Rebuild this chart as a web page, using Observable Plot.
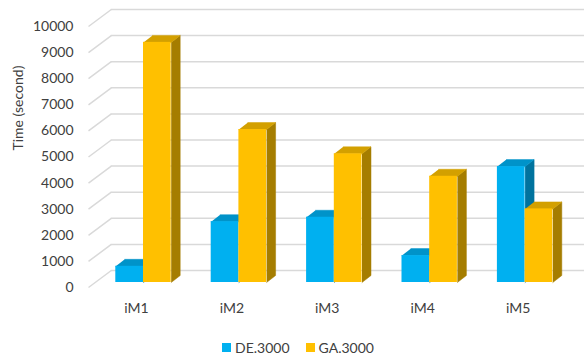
<!DOCTYPE html>
<html>
<head>
<meta charset="utf-8">
<script src="https://cdn.jsdelivr.net/npm/d3@7"></script>
<script src="https://cdn.jsdelivr.net/npm/@observablehq/plot@0.6"></script>
<style>
  html, body { margin: 0; padding: 0; background: #fff; }
  #chart { width: 584px; }
  .legend { height: 22px; line-height: 22px; font: 14px Lato, sans-serif; color: #404040;
    display: flex; justify-content: center; align-items: center; padding-left: 12px; box-sizing: border-box; width: 584px; }
  .legend span.item { display: inline-flex; align-items: center; margin: 0 8px; }
  .legend span.sw { width: 9px; height: 9px; display: inline-block; margin-right: 4px; }
</style>
</head>
<body>
<div id="chart"></div>
<script>
// ---- data ----
const categories = ["iM1", "iM2", "iM3", "iM4", "iM5"];
const seriesNames = ["DE.3000", "GA.3000"];
const deValues = [620, 2330, 2500, 1030, 4440];
const gaValues = [9200, 5860, 4930, 4070, 2820];
const yTicks = [0, 1000, 2000, 3000, 4000, 5000, 6000, 7000, 8000, 9000, 10000];

// ---- styling ----
const frontColors = ["#00B0F0", "#FFC000"];
const topColors = ["#0093C9", "#D3A000"];
const sideColors = ["#00739E", "#A57D00"];

const W = 584, H = 336;
const mL = 95.3, mR = 11.7, mT = 21, mB = 54;
const kx = (W - mL - mR) / 5;          // px per category unit
const ky = (H - mT - mB) / 10000;      // px per value unit
const barW = 27.7 / kx;                // bar width in x units
const ddx = 9 / kx, ddy = 7 / ky;      // bar depth offset in data units

const series = [deValues, gaValues];
const bars = [];
series.forEach((vals, s) => vals.forEach((v, i) => {
  const x1 = s === 0 ? i - barW : i;
  const x2 = s === 0 ? i : i + barW;
  bars.push({i, s, v, x1, x2, key: s + "-" + i});
}));

const topPts = [], sidePts = [];
for (const b of bars) {
  topPts.push(
    {key: b.key, s: b.s, x: b.x1, y: b.v},
    {key: b.key, s: b.s, x: b.x2, y: b.v},
    {key: b.key, s: b.s, x: b.x2 + ddx, y: b.v + ddy},
    {key: b.key, s: b.s, x: b.x1 + ddx, y: b.v + ddy}
  );
  sidePts.push(
    {key: b.key, s: b.s, x: b.x2, y: b.v},
    {key: b.key, s: b.s, x: b.x2 + ddx, y: b.v + ddy},
    {key: b.key, s: b.s, x: b.x2 + ddx, y: ddy},
    {key: b.key, s: b.s, x: b.x2, y: 0}
  );
}

// wall geometry relative to bar plane (pixels)
const frontDx = -7.3, frontDy = 5;
const depthX = 22.8, depthY = 17;

const faceMarks = (pts, colors) => [0, 1].map(s =>
  Plot.line(pts.filter(d => d.s === s), {
    x: "x", y: "y", z: "key", fill: colors[s], stroke: colors[s], strokeWidth: 0.5
  })
);

const chart = Plot.plot({
  width: W, height: H,
  marginLeft: mL, marginRight: mR, marginTop: mT, marginBottom: mB,
  style: {fontFamily: "Lato, sans-serif", fontSize: "14px", color: "#404040", background: "#fff", overflow: "visible"},
  x: {domain: [-0.5, 4.5]},
  y: {domain: [0, 10000]},
  marks: [
    // back wall gridlines
    Plot.ruleY(yTicks, {x1: -0.5, x2: 4.5, dx: frontDx + depthX, dy: frontDy - depthY, stroke: "#d9d9d9", strokeWidth: 1.5}),
    // side wall diagonals
    Plot.link(yTicks, {x1: -0.5, y1: d => d, x2: -0.5 + depthX / kx, y2: d => d + depthY / ky,
      dx: frontDx, dy: frontDy, stroke: "#d9d9d9", strokeWidth: 1.5}),
    ...faceMarks(sidePts, sideColors),
    ...faceMarks(topPts, topColors),
    ...[0, 1].map(s => Plot.rect(bars.filter(b => b.s === s), {
      x1: "x1", x2: "x2", y1: 0, y2: "v", fill: frontColors[s]
    })),
    Plot.axisY(yTicks, {anchor: "left", tickSize: 0, tickPadding: 0, dx: frontDx - 15, dy: frontDy,
      label: null, tickFormat: d => String(d), fontSize: 14}),
    Plot.axisX(d3.range(categories.length), {anchor: "bottom", tickSize: 0, tickPadding: 0, dx: -7, dy: 21,
      label: null, tickFormat: i => categories[i], fontSize: 14}),
    Plot.text(["Time (second)"], {frameAnchor: "left", rotate: -90, dx: -76.8, dy: -1.5, fontSize: 14, fill: "#404040"})
  ]
});
document.getElementById("chart").appendChild(chart);

const legend = document.createElement("div");
legend.className = "legend";
seriesNames.forEach((name, s) => {
  const item = document.createElement("span");
  item.className = "item";
  const sw = document.createElement("span");
  sw.className = "sw";
  sw.style.background = frontColors[s];
  item.appendChild(sw);
  item.appendChild(document.createTextNode(name));
  legend.appendChild(item);
});
document.getElementById("chart").appendChild(legend);
</script>
</body>
</html>
